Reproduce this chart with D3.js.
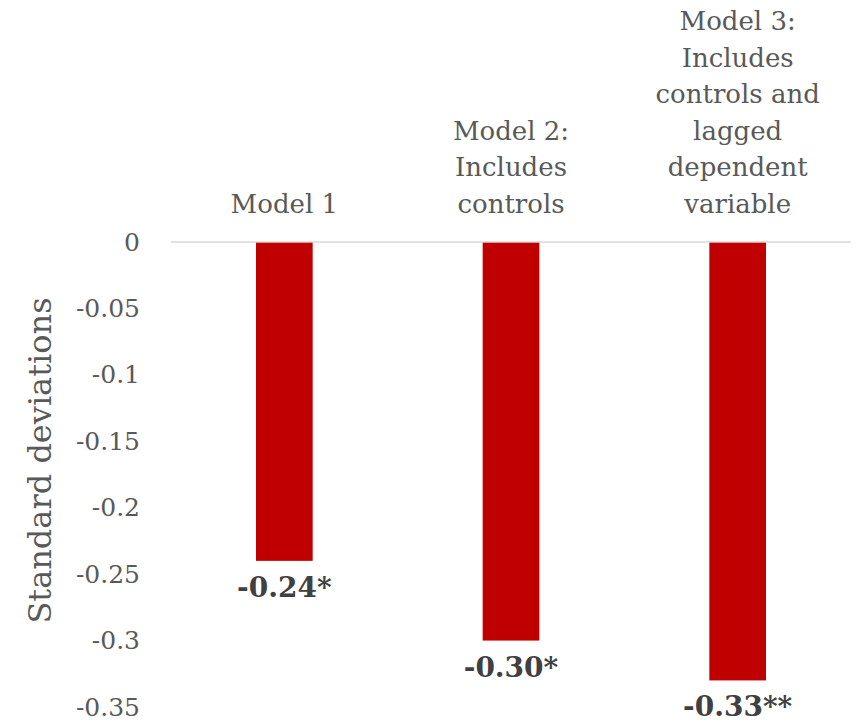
<!DOCTYPE html>
<html>
<head>
<meta charset="utf-8">
<script src="https://cdn.jsdelivr.net/npm/d3@7/dist/d3.min.js"></script>
<style>
  html, body { margin: 0; padding: 0; background: #fff; }
  svg { display: block; }
  text { font-family: Georgia, "DejaVu Serif", serif; }
</style>
</head>
<body>
<svg id="chart" width="867" height="726"></svg>
<script>
// Effect estimates (standard deviations) for each model specification
const categories = ["Model 1", "Model 2", "Model 3"];
const categoryLines = [
  ["Model 1"],
  ["Model 2:", "Includes", "controls"],
  ["Model 3:", "Includes", "controls and", "lagged", "dependent", "variable"]
];
const values = [-0.24, -0.30, -0.33];
const valueLabels = ["-0.24*", "-0.30*", "-0.33**"];
const yTicks = [0, -0.05, -0.1, -0.15, -0.2, -0.25, -0.3, -0.35];

const svg = d3.select("#chart");
const margin = { left: 171, right: 16, top: 242, bottom: 19 };
const W = 867, H = 726;

const x = d3.scaleBand()
  .domain(categories)
  .range([margin.left, W - margin.right])
  .paddingInner(0.75)
  .paddingOuter(0.375);

const y = d3.scaleLinear()
  .domain([-0.35, 0])
  .range([H - margin.bottom, margin.top]);

// Y axis tick labels
const yAxis = d3.axisLeft(y)
  .tickValues(yTicks)
  .tickSize(0)
  .tickPadding(0)
  .tickFormat(d => d === 0 ? "0" : String(+d.toFixed(2)));

const gy = svg.append("g")
  .attr("transform", `translate(140,0)`)
  .call(yAxis);
gy.select(".domain").remove();
gy.selectAll("text")
  .attr("fill", "#595959")
  .style("font-size", "25px")
  .style("font-family", 'Georgia, "DejaVu Serif", serif');

// Bars
svg.append("g")
  .selectAll("rect")
  .data(values)
  .join("rect")
  .attr("x", (d, i) => x(categories[i]))
  .attr("width", x.bandwidth())
  .attr("y", d => y(Math.max(0, d)))
  .attr("height", d => Math.abs(y(d) - y(0)))
  .attr("fill", "#c00000");

// Zero baseline
svg.append("line")
  .attr("x1", margin.left).attr("x2", W - margin.right)
  .attr("y1", y(0)).attr("y2", y(0))
  .attr("stroke", "#d9d9d9")
  .attr("stroke-width", 1.5);

// Value labels below each bar
svg.append("g")
  .selectAll("text")
  .data(values)
  .join("text")
  .attr("x", (d, i) => x(categories[i]) + x.bandwidth() / 2)
  .attr("y", d => y(d) + 36)
  .attr("text-anchor", "middle")
  .attr("fill", "#404040")
  .style("font-size", "28px")
  .style("font-weight", "bold")
  .text((d, i) => valueLabels[i]);

// Category labels, bottom-aligned above the baseline
const lineH = 36.6;
const catG = svg.append("g");
categoryLines.forEach((lines, i) => {
  const cx = x(categories[i]) + x.bandwidth() / 2;
  const n = lines.length;
  const t = catG.append("text")
    .attr("text-anchor", "middle")
    .attr("fill", "#595959")
    .style("font-size", "26px");
  lines.forEach((ln, j) => {
    t.append("tspan")
      .attr("x", cx)
      .attr("y", 213 - (n - 1 - j) * lineH)
      .text(ln);
  });
});

// Y axis title
svg.append("text")
  .attr("transform", `translate(51,${(y(0) + y(-0.35)) / 2 - 14}) rotate(-90)`)
  .attr("text-anchor", "middle")
  .attr("fill", "#595959")
  .style("font-size", "32px")
  .text("Standard deviations");
</script>
</body>
</html>
